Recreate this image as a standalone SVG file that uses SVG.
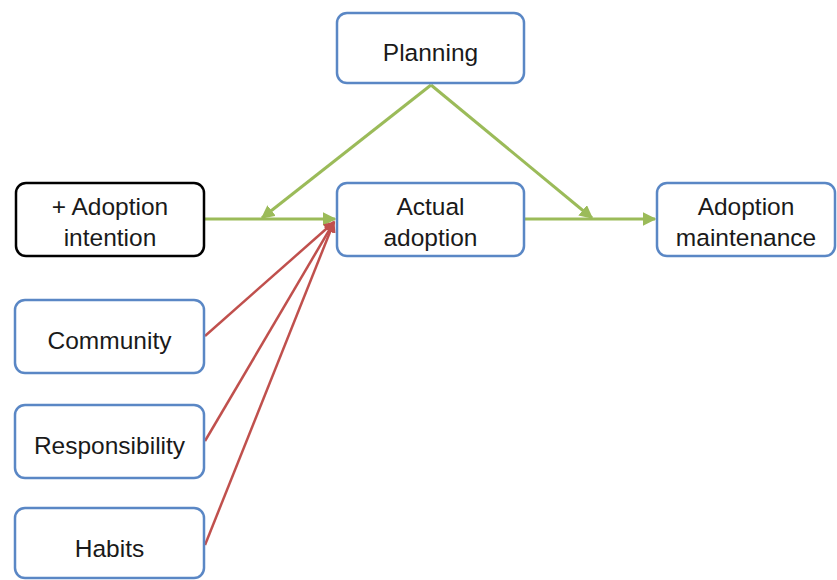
<svg xmlns="http://www.w3.org/2000/svg" width="837" height="580" viewBox="0 0 837 580">
  <style>
    .box { fill: #ffffff; stroke: #5a87c5; stroke-width: 2.5; }
    .box.dark { stroke: #000000; }
    .label { font-family: "Liberation Sans", Arial, sans-serif; font-size: 24.5px; fill: #1a1a1a; text-anchor: middle; }
    .green { stroke: #9bbb59; stroke-width: 3; fill: none; }
    .red { stroke: #c0504d; stroke-width: 2.5; fill: none; }
  </style>
  <defs>
    <marker id="arrowGreen" viewBox="0 0 10 10" refX="9" refY="5" markerWidth="4.5" markerHeight="4.5" orient="auto" markerUnits="strokeWidth">
      <path d="M0,0 L10,5 L0,10 z" fill="#9bbb59"/>
    </marker>
    <marker id="arrowRed" viewBox="0 0 10 10" refX="9" refY="5" markerWidth="4.5" markerHeight="4.5" orient="auto" markerUnits="strokeWidth">
      <path d="M0,0 L10,5 L0,10 z" fill="#c0504d"/>
    </marker>
  </defs>

  <rect width="837" height="580" fill="#ffffff"/>

  <!-- connectors -->
  <g id="connectors">
    <line class="green" x1="205" y1="219" x2="335" y2="219" marker-end="url(#arrowGreen)"/>
    <line class="green" x1="525" y1="219" x2="655" y2="219" marker-end="url(#arrowGreen)"/>
    <line class="green" x1="431" y1="85" x2="262" y2="218" marker-end="url(#arrowGreen)"/>
    <line class="green" x1="431" y1="85" x2="592" y2="218" marker-end="url(#arrowGreen)"/>
    <line class="red" x1="205" y1="336" x2="334" y2="222" marker-end="url(#arrowRed)"/>
    <line class="red" x1="205" y1="441" x2="334" y2="222" marker-end="url(#arrowRed)"/>
    <line class="red" x1="205" y1="545" x2="334" y2="222" marker-end="url(#arrowRed)"/>
  </g>

  <g id="planning">
    <rect class="box" x="337" y="13" width="187" height="70" rx="10"/>
    <text class="label" x="430.5" y="61">Planning</text>
  </g>

  <g id="adoption-intention">
    <rect class="box dark" x="16" y="183" width="188" height="73" rx="10"/>
    <text class="label" x="110" y="215">+ Adoption</text>
    <text class="label" x="110" y="246">intention</text>
  </g>

  <g id="actual-adoption">
    <rect class="box" x="337" y="183" width="187" height="73" rx="10"/>
    <text class="label" x="430.5" y="215">Actual</text>
    <text class="label" x="430.5" y="246">adoption</text>
  </g>

  <g id="adoption-maintenance">
    <rect class="box" x="657" y="183" width="178" height="73" rx="10"/>
    <text class="label" x="746" y="215">Adoption</text>
    <text class="label" x="746" y="246">maintenance</text>
  </g>

  <g id="community">
    <rect class="box" x="15" y="300" width="189" height="73" rx="10"/>
    <text class="label" x="109.5" y="349">Community</text>
  </g>

  <g id="responsibility">
    <rect class="box" x="15" y="405" width="189" height="73" rx="10"/>
    <text class="label" x="109.5" y="454">Responsibility</text>
  </g>

  <g id="habits">
    <rect class="box" x="15" y="508" width="189" height="70" rx="10"/>
    <text class="label" x="109.5" y="557">Habits</text>
  </g>
</svg>
